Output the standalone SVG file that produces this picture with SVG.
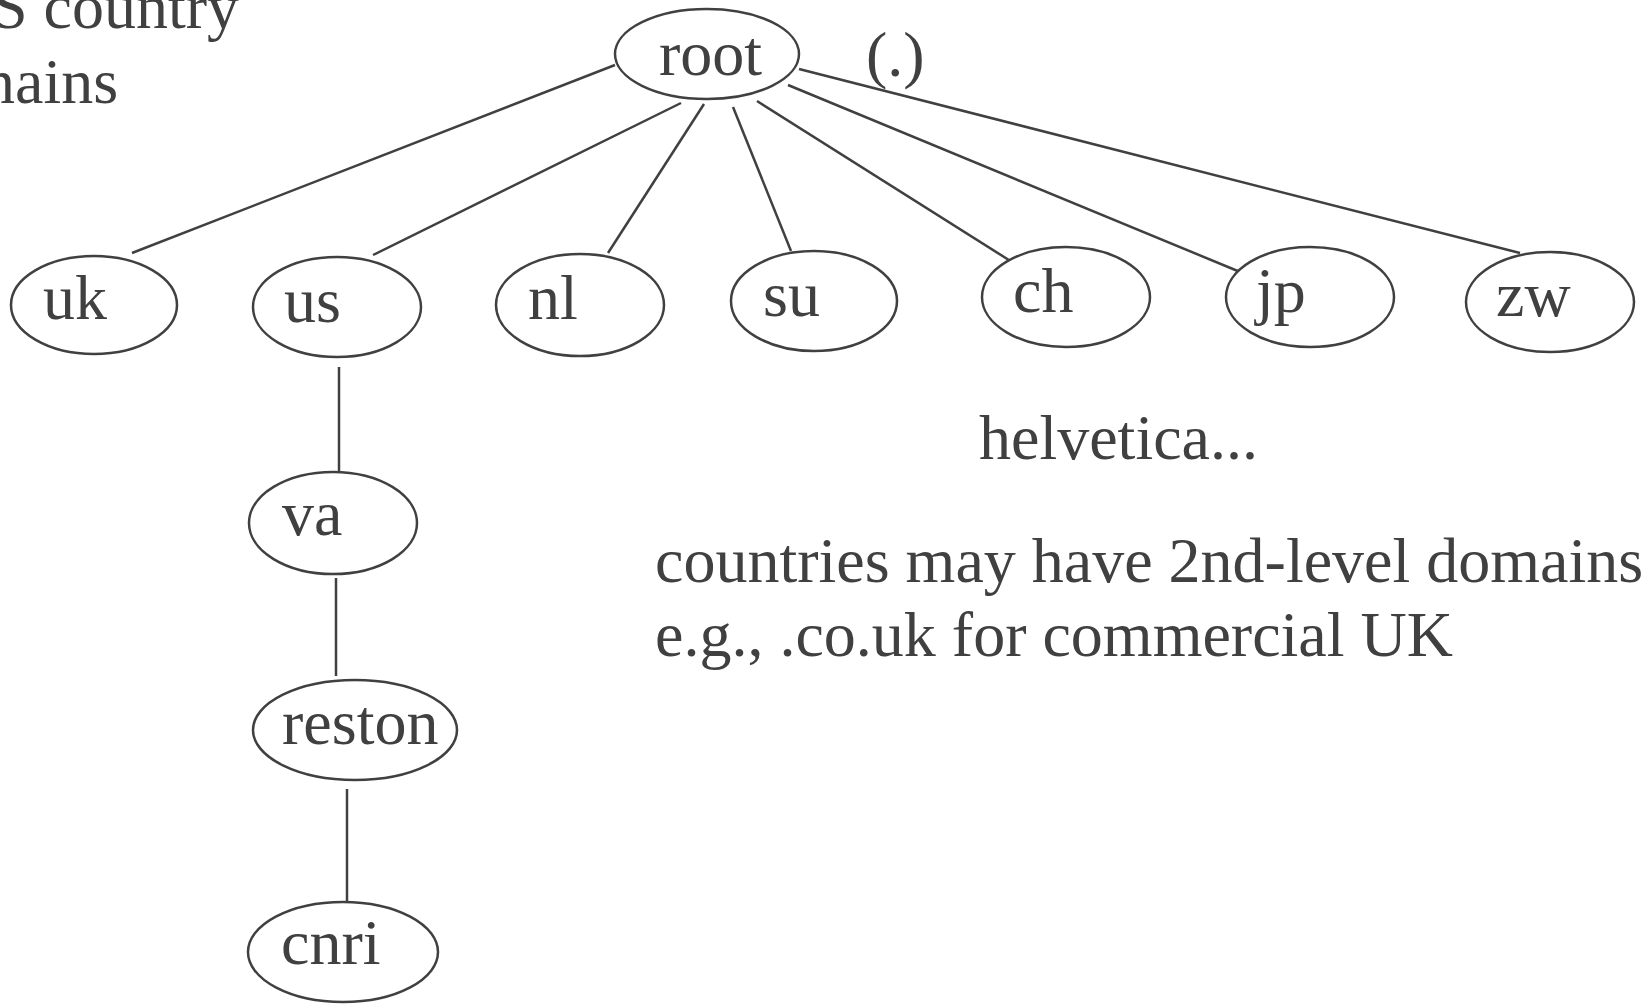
<svg xmlns="http://www.w3.org/2000/svg" width="1644" height="1004" viewBox="0 0 1644 1004">
<style>
.n{fill:#fff;stroke:#404040;stroke-width:2.5}
.t{font-family:"Liberation Serif","Times New Roman",serif;font-size:64px;fill:#404040}
.c line{stroke:#404040;stroke-width:2.5}
</style>
<rect width="1644" height="1004" fill="#fff"/>
<g class="c" id="connectors">
<line x1="615" y1="65" x2="132" y2="253"/>
<line x1="681" y1="103" x2="373" y2="255"/>
<line x1="704" y1="104" x2="608" y2="253"/>
<line x1="733" y1="107" x2="791" y2="251"/>
<line x1="757" y1="101" x2="1012" y2="262"/>
<line x1="788" y1="85" x2="1245" y2="274"/>
<line x1="799" y1="69" x2="1520" y2="253"/>
<line x1="339" y1="367" x2="339" y2="471"/>
<line x1="336" y1="578" x2="336" y2="676"/>
<line x1="347" y1="789" x2="347" y2="902"/>
</g>
<g id="root"><ellipse class="n" cx="707" cy="54" rx="92" ry="45"/><text class="t" x="659" y="75">root</text></g>
<text class="t" x="866" y="76">(.)</text>
<g id="uk"><ellipse class="n" cx="94" cy="305" rx="83" ry="49"/><text class="t" x="43" y="319">uk</text></g>
<g id="us"><ellipse class="n" cx="337" cy="307" rx="84" ry="50"/><text class="t" x="284" y="322">us</text></g>
<g id="nl"><ellipse class="n" cx="580" cy="305" rx="84" ry="51"/><text class="t" x="528" y="319">nl</text></g>
<g id="su"><ellipse class="n" cx="814" cy="301" rx="83" ry="50"/><text class="t" x="763" y="316">su</text></g>
<g id="ch"><ellipse class="n" cx="1066" cy="297" rx="84" ry="50"/><text class="t" x="1013" y="312">ch</text></g>
<g id="jp"><ellipse class="n" cx="1310" cy="297" rx="84" ry="50"/><text class="t" x="1256" y="312">jp</text></g>
<g id="zw"><ellipse class="n" cx="1550" cy="302" rx="84" ry="50"/><text class="t" x="1496" y="316">zw</text></g>
<g id="va"><ellipse class="n" cx="333" cy="523" rx="84" ry="51"/><text class="t" x="282" y="535">va</text></g>
<g id="reston"><ellipse class="n" cx="355" cy="730" rx="102" ry="50"/><text class="t" x="282" y="744">reston</text></g>
<g id="cnri"><ellipse class="n" cx="343" cy="952" rx="95" ry="50"/><text class="t" x="281" y="964">cnri</text></g>
<text class="t" x="-8" y="28">S country</text>
<text class="t" x="-17" y="103">nains</text>
<text class="t" x="979" y="459">helvetica...</text>
<text class="t" x="655" y="582">countries may have 2nd-level domains</text>
<text class="t" x="655" y="656">e.g., .co.uk for commercial UK</text>
</svg>
